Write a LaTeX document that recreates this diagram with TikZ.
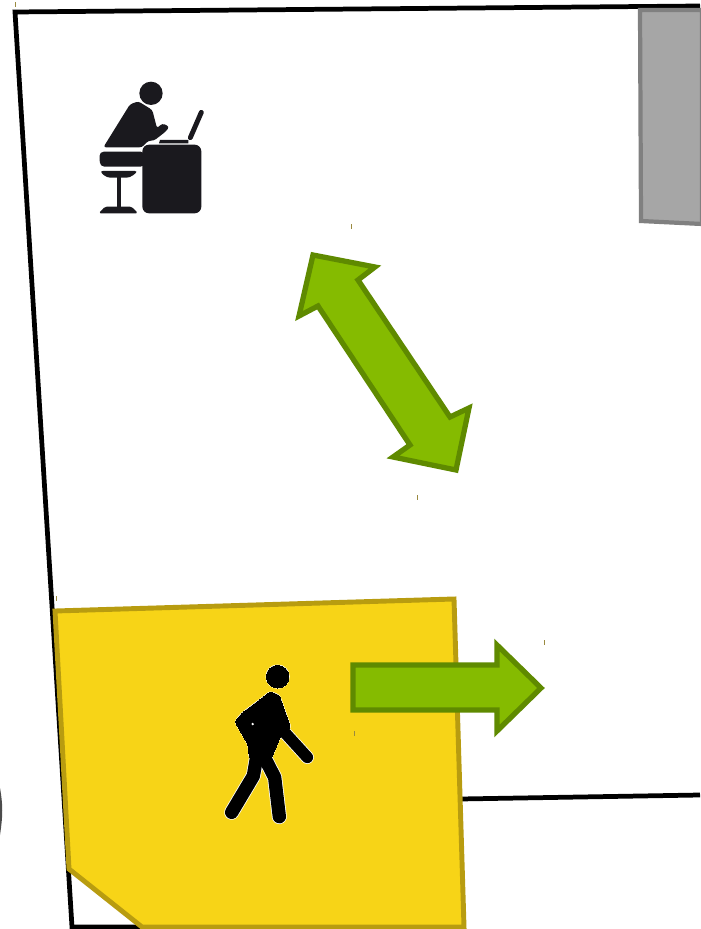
\documentclass[tikz,border=0pt]{standalone}
\usepackage{xcolor}
\usetikzlibrary{arrows.meta, positioning, calc}
\definecolor{roomyellow}{HTML}{F7D417}
\definecolor{roomedge}{HTML}{B89C10}
\definecolor{flowgreen}{HTML}{85BB00}
\definecolor{flowedge}{HTML}{5F8A00}
\definecolor{iconblack}{HTML}{1A191E}
\definecolor{tickcol}{HTML}{9A8A40}

\begin{document}
\begin{tikzpicture}[
  x=0.02cm, y=-0.02cm,
  wall/.style={draw=black, line width=2.7pt},
  room/.style={draw=roomedge, fill=roomyellow, line width=2.8pt, line join=miter},
  block/.style={draw=black!50, fill=black!35, line width=2.4pt},
  flow/.style={draw=flowedge, fill=flowgreen, line width=3pt, line join=miter},
  icon/.style={fill=iconblack},
  limb/.style={line cap=round, line join=round}
]
  \useasboundingbox (0,0) rectangle (700,929);

  % walls
  \draw[wall] (700,6) -- (15,12) -- (72,927) -- (150,927);
  \draw[wall] (460,799) -- (700,795);

  % grey block
  \draw[block] (640,10) -- (641,221) -- (702,224) -- (702,10) -- cycle;

  % seated person at desk
  \begin{scope}[shift={(80,60)}, x=0.00667cm, y=-0.00667cm]
    \fill[icon] (213,100) circle (35);
    \fill[icon, rounded corners=1.5pt] (70,262) -- (150,133) -- (175,124) -- (217,150) -- (231,205) -- (247,190) -- (268,200) -- (258,214) -- (222,242) -- (205,242) -- (186,262) -- cycle;
    \fill[icon, rounded corners=2.5pt] (58,275) -- (195,275) -- (195,320) -- (60,320) -- cycle;
    \fill[icon, rounded corners=2pt] (58,333) -- (175,333) -- (150,353) -- (80,353) -- cycle;
    \fill[icon] (111,350) rectangle (122,442);
    \fill[icon, rounded corners=1pt] (56,460) -- (75,440) -- (155,440) -- (174,460) -- cycle;
    \fill[icon, rounded corners=3.8pt] (187,254) rectangle (364,460);
    \fill[icon] (237,250) -- (240,240) -- (325,240) -- (325,250) -- cycle;
    \draw[iconblack, line width=2.8pt, line cap=round] (331,233) -- (364,157);
  \end{scope}

  % arrow between rooms
  \draw[flow] (313,255) -- (375,267) -- (358,280) -- (450,417) -- (469,408) -- (456,470) -- (393,457) -- (410,445) -- (318,306) -- (299,316) -- cycle;

  % yellow room
  \draw[room] (55,611) -- (454,599) -- (464,927) -- (142,927) -- (69,869) -- cycle;

  % walking person
  \begin{scope}[shift={(200,650)}, x=0.00667cm, y=-0.00667cm]
    \foreach \halo/\shade in {0.9/white, 0/black} {
      \draw[\shade, fill=\shade, line width=\halo pt] (233,80) circle (34);
      \draw[\shade, fill=\shade, line width=\halo pt, rounded corners=1.5pt, limb] (210,125) -- (238,136) -- (272,232) -- (240,262) -- (214,325) -- (148,325) -- (145,285) -- (105,215) -- (125,190) -- (185,145) -- cycle;
      \draw[\shade, limb, line width=6.6pt+\halo pt] (252,245) -- (322,322);
      \draw[\shade, limb, line width=7.6pt+\halo pt] (172,310) -- (160,378) -- (95,487);
      \draw[\shade, limb, line width=7.6pt+\halo pt] (187,310) -- (224,382) -- (238,500);
    }
    \fill[white] (158,222) circle (4);
  \end{scope}

  % arrow out of the room
  \draw[flow] (353,665) -- (497,665) -- (497,645) -- (541,688) -- (497,731) -- (497,710) -- (353,710) -- cycle;

  % small marks left on the sheet
  \foreach \tx/\ty in {351/226, 417/497, 544/642, 354/733, 56/598, 15/5}
    \fill[tickcol] (\tx-0.5,\ty-2.5) rectangle (\tx+0.5,\ty+2.5);
  \fill[black!70] (0,788) .. controls (3,805) and (3,815) .. (0,835) -- cycle;
\end{tikzpicture}
\end{document}
